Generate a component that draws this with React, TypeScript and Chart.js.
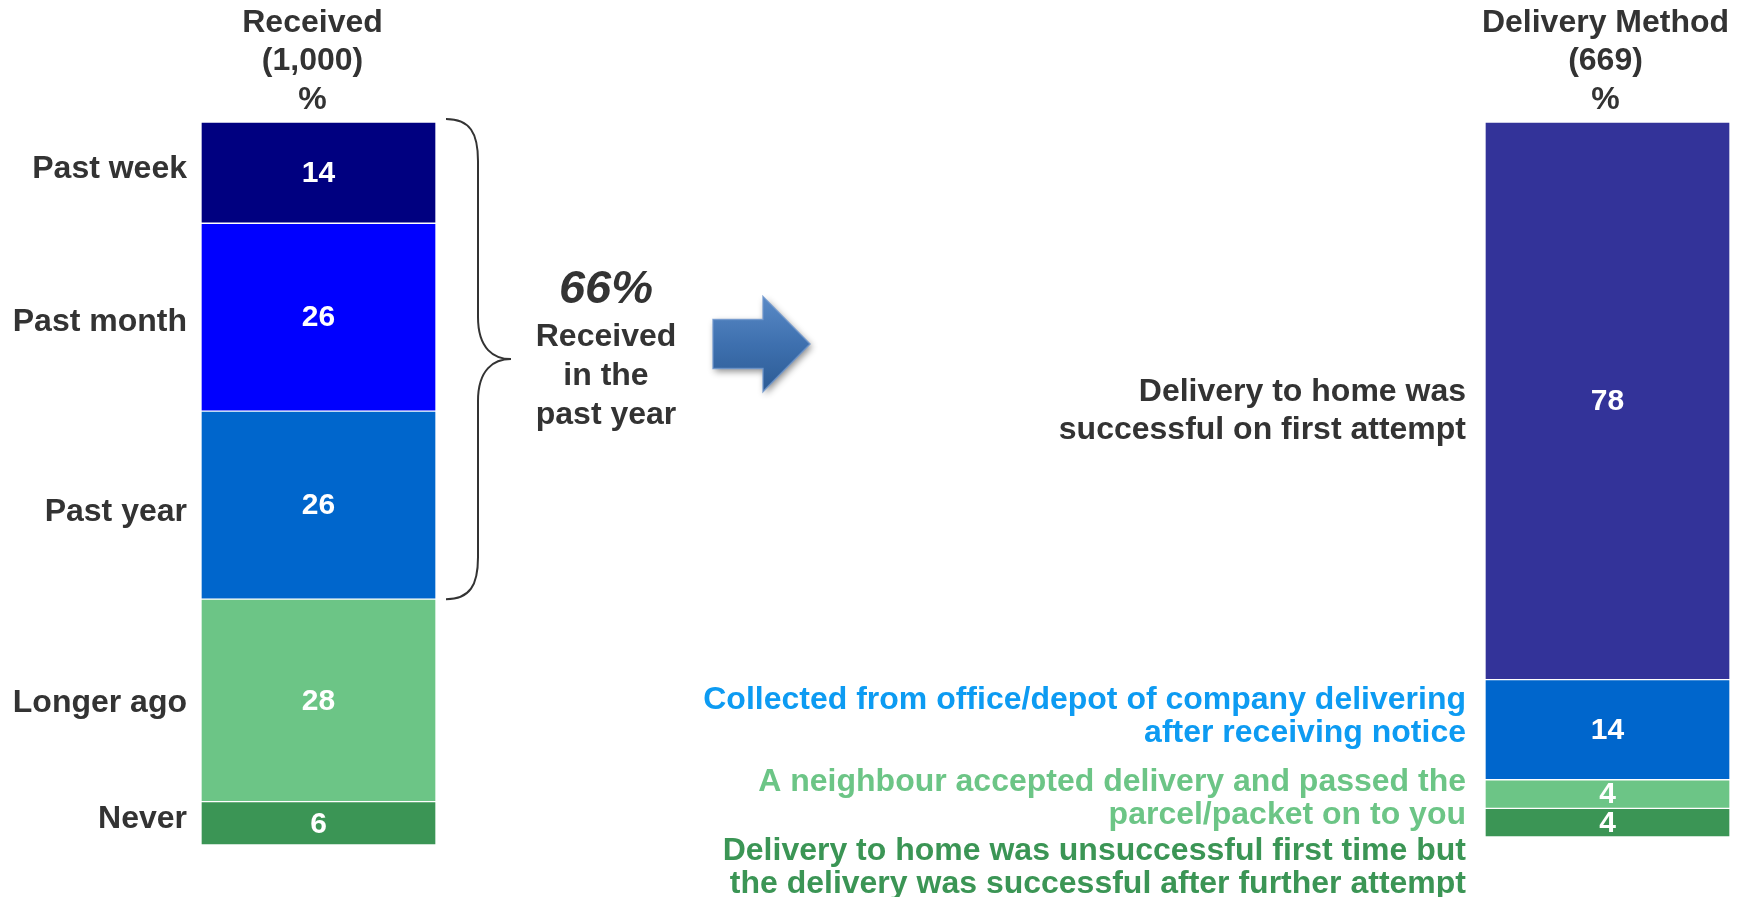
import React, { useEffect, useRef } from 'react';
import { Chart, registerables } from 'chart.js';

Chart.register(...registerables);

// ---------- data ----------
const barLabels = ['Received', 'Delivery Method'];
const headerLines = [
  ['Received', '(1,000)', '%'],
  ['Delivery Method', '(669)', '%'],
];
const receivedCategories = ['Past week', 'Past month', 'Past year', 'Longer ago', 'Never'];
const receivedValues = [14, 26, 26, 28, 6];
const receivedColors = ['#000080', '#0000FF', '#0066CC', '#6CC586', '#3B9555'];

const methodCategories = [
  ['Delivery to home was', 'successful on first attempt'],
  ['Collected from office/depot of company delivering', 'after receiving notice'],
  ['A neighbour accepted delivery and passed the', 'parcel/packet on to you'],
  ['Delivery to home was unsuccessful first time but', 'the delivery was successful after further attempt'],
];
const methodValues = [78, 14, 4, 4];
const methodColors = ['#333399', '#0066CC', '#6CC586', '#3B9555'];
const methodLabelColors = ['#333333', '#0D9BF2', '#6CC586', '#3B9555'];

const pastYearShare = '66%';
const pastYearText = ['Received', 'in the', 'past year'];
const pastYearCount = 3; // first three categories are within the past year

const FONT = '"Liberation Sans", Arial, Helvetica, sans-serif';
const TEXT = '#333333';

const annotationPlugin = {
  id: 'annotations',
  afterDatasetsDraw(chart: any) {
    const ctx: CanvasRenderingContext2D = chart.ctx;
    const nL = receivedValues.length;
    const nR = methodValues.length;
    const leftMeta = (i: number) => chart.getDatasetMeta(nL - 1 - i).data[0];
    const rightMeta = (i: number) => chart.getDatasetMeta(nL + (nR - 1 - i)).data[1];
    const yL = chart.scales.y;

    ctx.save();
    ctx.textBaseline = 'middle';

    // values inside bars
    ctx.fillStyle = '#ffffff';
    ctx.font = `bold 30px ${FONT}`;
    ctx.textAlign = 'center';
    for (let i = 0; i < nL; i++) {
      const el = leftMeta(i);
      ctx.fillText(String(receivedValues[i]), el.x, (el.y + el.base) / 2 + 1);
    }
    for (let i = 0; i < nR; i++) {
      const el = rightMeta(i);
      ctx.fillText(String(methodValues[i]), el.x, (el.y + el.base) / 2 + 1);
    }

    // headers
    ctx.fillStyle = TEXT;
    ctx.font = `bold 32px ${FONT}`;
    const top = chart.chartArea.top;
    const lineYs = [top - 99, top - 61, top - 22];
    const lx = leftMeta(0).x - 6;
    const rx = rightMeta(0).x - 2;
    headerLines[0].forEach((t, k) => ctx.fillText(t, lx, lineYs[k]));
    headerLines[1].forEach((t, k) => ctx.fillText(t, rx, lineYs[k]));

    // left category labels
    const leftDy = [-3, 5, 7, 3, -4];
    ctx.textAlign = 'right';
    ctx.font = `bold 32px ${FONT}`;
    for (let i = 0; i < nL; i++) {
      const el = leftMeta(i);
      const left = el.x - el.width / 2;
      ctx.fillText(receivedCategories[i], left - 14, (el.y + el.base) / 2 + leftDy[i]);
    }

    // right method labels
    const layout = [
      { dy: 10, gap: 38 },
      { dy: -13, gap: 33 },
      { dy: 5, gap: 33 },
      { dy: 45, gap: 33 },
    ];
    ctx.font = `bold 32px ${FONT}`;
    for (let i = 0; i < nR; i++) {
      const el = rightMeta(i);
      const left = el.x - el.width / 2;
      const cy = (el.y + el.base) / 2 + layout[i].dy;
      const lines = methodCategories[i];
      ctx.fillStyle = methodLabelColors[i];
      lines.forEach((t, k) => {
        const y = cy + (k - (lines.length - 1) / 2) * layout[i].gap;
        ctx.fillText(t, left - 19, y);
      });
    }

    // brace around the past-year segments
    const firstEl = leftMeta(0);
    const bx0 = firstEl.x + firstEl.width / 2 + 10;
    const bxm = bx0 + 32;
    const bxp = bx0 + 65;
    let cum = 0;
    for (let i = pastYearCount; i < nL; i++) cum += receivedValues[i];
    const bTop = yL.getPixelForValue(100) - 3;
    const bBot = yL.getPixelForValue(cum);
    const bMid = (bTop + bBot) / 2;
    ctx.strokeStyle = '#333333';
    ctx.lineWidth = 2;
    ctx.beginPath();
    ctx.moveTo(bx0, bTop);
    ctx.bezierCurveTo(bx0 + 24, bTop, bxm, bTop + 14, bxm, bTop + 42);
    ctx.lineTo(bxm, bMid - 42);
    ctx.bezierCurveTo(bxm, bMid - 10, bxm + 16, bMid, bxp, bMid);
    ctx.bezierCurveTo(bxm + 16, bMid, bxm, bMid + 10, bxm, bMid + 42);
    ctx.lineTo(bxm, bBot - 42);
    ctx.bezierCurveTo(bxm, bBot - 14, bx0 + 24, bBot, bx0, bBot);
    ctx.stroke();

    // 66% received in the past year
    const tx = bxp + 95;
    ctx.textAlign = 'center';
    ctx.fillStyle = TEXT;
    ctx.font = `italic bold 47px ${FONT}`;
    ctx.fillText(pastYearShare, tx, bMid - 69);
    ctx.font = `bold 32px ${FONT}`;
    pastYearText.forEach((t, k) => ctx.fillText(t, tx, bMid - 22 + k * 39));

    // arrow
    const ax0 = bxp + 202, ax1 = ax0 + 50, ax2 = ax0 + 97;
    const ay = bMid - 15;
    const sh = 49, hh = 95;
    ctx.beginPath();
    ctx.moveTo(ax0, ay - sh / 2);
    ctx.lineTo(ax1, ay - sh / 2);
    ctx.lineTo(ax1, ay - hh / 2);
    ctx.lineTo(ax2, ay);
    ctx.lineTo(ax1, ay + hh / 2);
    ctx.lineTo(ax1, ay + sh / 2);
    ctx.lineTo(ax0, ay + sh / 2);
    ctx.closePath();
    ctx.save();
    ctx.shadowColor = 'rgba(0,0,0,0.45)';
    ctx.shadowBlur = 7;
    ctx.shadowOffsetX = 2;
    ctx.shadowOffsetY = 3;
    const g = ctx.createLinearGradient(0, ay - hh / 2, 0, ay + hh / 2);
    g.addColorStop(0, '#5A8AC6');
    g.addColorStop(0.5, '#3E70AF');
    g.addColorStop(1, '#2C5B94');
    ctx.fillStyle = g;
    ctx.fill();
    ctx.restore();
    ctx.strokeStyle = 'rgba(110,150,205,0.8)';
    ctx.lineWidth = 1.5;
    ctx.stroke();

    ctx.restore();
  },
};

export default function App() {
  const ref = useRef<HTMLCanvasElement>(null);

  useEffect(() => {
    const canvas = ref.current;
    if (!canvas) return;
    const datasets: any[] = [];
    for (let i = receivedValues.length - 1; i >= 0; i--) {
      datasets.push({
        label: receivedCategories[i],
        data: [receivedValues[i], null],
        backgroundColor: receivedColors[i],
        borderColor: '#ffffff',
        borderWidth: 1,
        borderSkipped: false,
        yAxisID: 'y',
        barThickness: 235,
        clip: false,
      });
    }
    for (let i = methodValues.length - 1; i >= 0; i--) {
      datasets.push({
        label: methodCategories[i].join(' '),
        data: [null, methodValues[i]],
        backgroundColor: methodColors[i],
        borderColor: '#ffffff',
        borderWidth: 1,
        borderSkipped: false,
        yAxisID: 'y2',
        barThickness: 245,
        clip: false,
      });
    }
    const chart = new Chart(canvas, {
      type: 'bar',
      data: { labels: barLabels, datasets },
      options: {
        responsive: true,
        maintainAspectRatio: false,
        animation: false,
        layout: { padding: { left: 318.5, right: 140.5, top: 122, bottom: 52 } },
        plugins: {
          legend: { display: false },
          tooltip: { enabled: false },
        },
        scales: {
          x: { type: 'category', display: false, offset: false, stacked: true },
          y: { display: false, stacked: true, min: 0, max: 100 },
          y2: { display: false, stacked: true, min: -1.12, max: 100 },
        },
      } as any,
      plugins: [annotationPlugin],
    });
    return () => chart.destroy();
  }, []);

  return (
    <div style={{ position: 'fixed', left: 0, top: 0, width: 1748, height: 897, background: '#ffffff' }}>
      <canvas ref={ref} />
    </div>
  );
}
